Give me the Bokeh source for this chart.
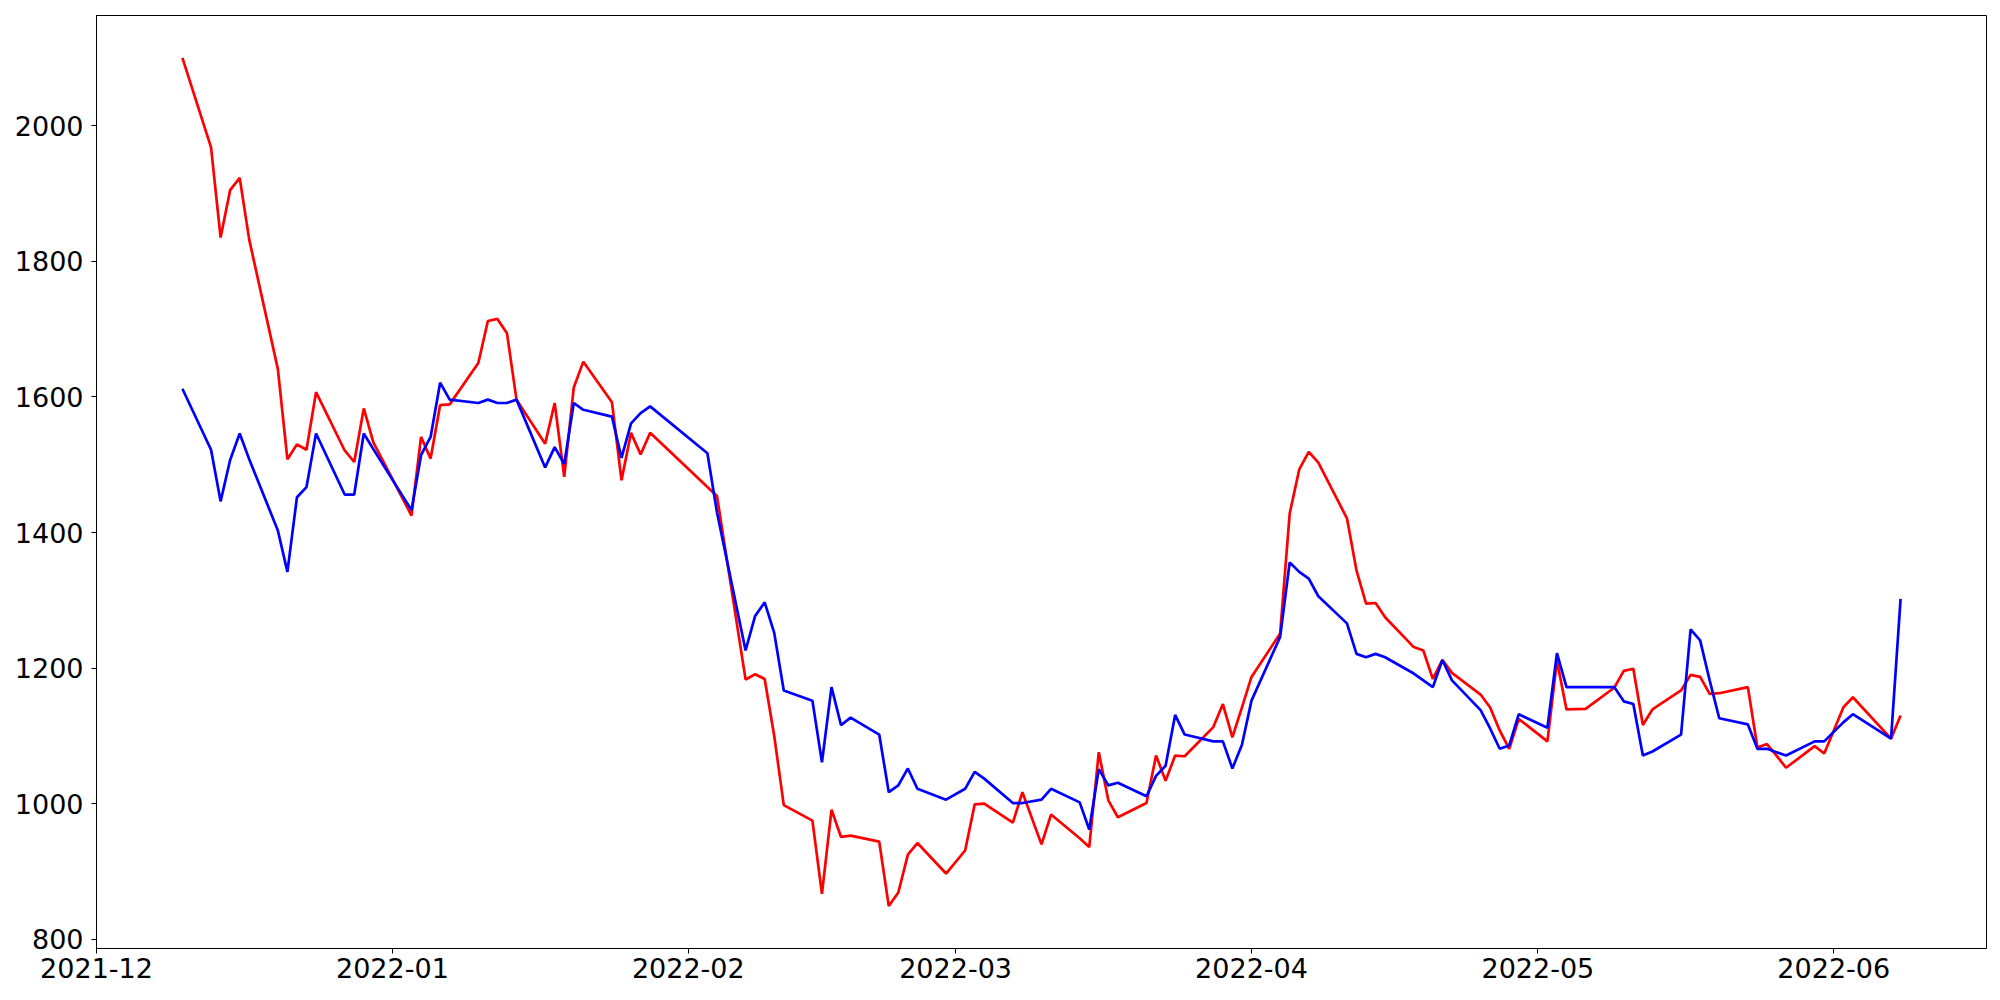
import pandas as pd
from bokeh.plotting import figure
from bokeh.models import Range1d, FixedTicker, DatetimeTickFormatter
from bokeh.embed import file_html
from bokeh.resources import INLINE

# Trading days (KRX calendar) Dec 2021 - Jun 2022
dec_days = [10, 13, 14, 15, 16, 17, 20, 21, 22, 23, 24, 27, 28, 29, 30]
jan_days = [3, 4, 5, 6, 7, 10, 11, 12, 13, 14, 17, 18, 19, 20, 21, 24, 25, 26, 27, 28]
feb_days = [3, 4, 7, 8, 9, 10, 11, 14, 15, 16, 17, 18, 21, 22, 23, 24, 25, 28]
mar_days = [2, 3, 4, 7, 8, 10, 11, 14, 15, 16, 17, 18, 21, 22, 23, 24, 25, 28, 29, 30, 31]
apr_days = [1, 4, 5, 6, 7, 8, 11, 12, 13, 14, 15, 18, 19, 20, 21, 22, 25, 26, 27, 28, 29]
may_days = [2, 3, 4, 6, 9, 10, 11, 12, 13, 16, 17, 18, 19, 20, 23, 24, 25, 26, 27, 30, 31]
jun_days = [2, 3, 7, 8]

red_values = [
    2100, 1968, 1835, 1905, 1923, 1832, 1641, 1508, 1530, 1522, 1607, 1521, 1504, 1583, 1533,
    1425, 1541, 1509, 1588, 1589, 1650, 1712, 1715, 1694, 1596, 1531, 1591, 1482, 1614, 1652,
    1592, 1477, 1547, 1515, 1547,
    1467, 1454, 1183, 1191, 1184, 1100, 998, 975, 867, 991, 951, 953, 944, 849, 869, 925, 942, 897,
    931, 999, 1000, 972, 1017, 940, 984, 949, 936, 1076, 1005, 980, 1001, 1071, 1034, 1071, 1070,
    1113, 1147, 1098, 1142,
    1187, 1251, 1428, 1493, 1519, 1503, 1421, 1344, 1295, 1296, 1275, 1231, 1226, 1184, 1212, 1193,
    1161, 1142, 1108, 1081, 1125,
    1092, 1211, 1139, 1140, 1171, 1196, 1199, 1116, 1139, 1167, 1190, 1187, 1162, 1163, 1172, 1083,
    1088, 1071, 1053, 1085, 1074,
    1142, 1157, 1096, 1130,
]

blue_values = [
    1612, 1522, 1446, 1507, 1546, 1508, 1403, 1342, 1452, 1467, 1546, 1456, 1456, 1546, 1523,
    1433, 1514, 1541, 1621, 1596, 1591, 1596, 1591, 1591, 1596, 1496, 1526, 1501, 1591, 1581,
    1571, 1510, 1561, 1576, 1586,
    1517, 1430, 1226, 1277, 1297, 1252, 1167, 1152, 1061, 1172, 1116, 1127, 1102, 1017, 1027, 1052,
    1022, 1006,
    1022, 1047, 1037, 1001, 1001, 1006, 1022, 1002, 962, 1051, 1027, 1031, 1011, 1041, 1056, 1131,
    1102, 1092, 1092, 1052, 1087,
    1152, 1246, 1356, 1342, 1332, 1306, 1266, 1221, 1216, 1221, 1216, 1192, 1182, 1172, 1212, 1182,
    1138, 1111, 1081, 1086, 1132,
    1112, 1222, 1172, 1172, 1172, 1151, 1147, 1071, 1077, 1102, 1257, 1241, 1182, 1126, 1117, 1081,
    1081, 1076, 1071, 1092, 1092,
    1120, 1132, 1096, 1302,
]

y_ticks = [800, 1000, 1200, 1400, 1600, 1800, 2000]
x_tick_months = ["2021-12-01", "2022-01-01", "2022-02-01", "2022-03-01",
                 "2022-04-01", "2022-05-01", "2022-06-01"]

month_parts = [("2021-12", dec_days), ("2022-01", jan_days), ("2022-02", feb_days),
               ("2022-03", mar_days), ("2022-04", apr_days), ("2022-05", may_days),
               ("2022-06", jun_days)]
date_strings = [f"{ym}-{d:02d}" for ym, days in month_parts for d in days]
dates = pd.to_datetime(date_strings)

# matplotlib-like 5% margins
span = dates[-1] - dates[0]
x_start = dates[0] - span * 0.05
x_end = dates[-1] + span * 0.05
all_vals = red_values + blue_values
vmin, vmax = min(all_vals), max(all_vals)
vr = vmax - vmin
y_start = vmin - 0.05 * vr
y_end = vmax + 0.05 * vr

p = figure(width=2000, height=1000, x_axis_type="datetime",
           output_backend="svg", toolbar_location=None,
           x_range=Range1d(start=x_start, end=x_end),
           y_range=Range1d(start=y_start, end=y_end),
           min_border_left=96, min_border_right=14,
           min_border_top=15, min_border_bottom=52)

p.line(dates, red_values, line_color="red", line_width=2.7)
p.line(dates, blue_values, line_color="blue", line_width=2.7)

p.xgrid.visible = False
p.ygrid.visible = False
p.outline_line_color = "black"
p.outline_line_width = 1
p.outline_line_alpha = 1.0
p.background_fill_color = "white"
p.border_fill_color = "white"

tick_ms = [pd.Timestamp(m).value // 10**6 for m in x_tick_months]
p.xaxis.ticker = FixedTicker(ticks=tick_ms)
fmt = "%Y-%m"
p.xaxis.formatter = DatetimeTickFormatter(
    microseconds=fmt, milliseconds=fmt, seconds=fmt, minsec=fmt, minutes=fmt,
    hourmin=fmt, hours=fmt, days=fmt, months=fmt, years=fmt)
p.yaxis.ticker = FixedTicker(ticks=y_ticks)

for ax in (p.xaxis[0], p.yaxis[0]):
    ax.axis_line_color = "black"
    ax.axis_line_width = 1
    ax.major_tick_line_color = "black"
    ax.major_tick_out = 5
    ax.major_tick_in = 0
    ax.minor_tick_out = 0
    ax.minor_tick_in = 0
    ax.major_label_text_font = "DejaVu Sans"
    ax.major_label_text_font_size = "27px"
    ax.major_label_text_color = "black"
p.xaxis.major_label_standoff = 4
p.yaxis.major_label_standoff = 8

open("out.html", "w").write(file_html(p, INLINE))
